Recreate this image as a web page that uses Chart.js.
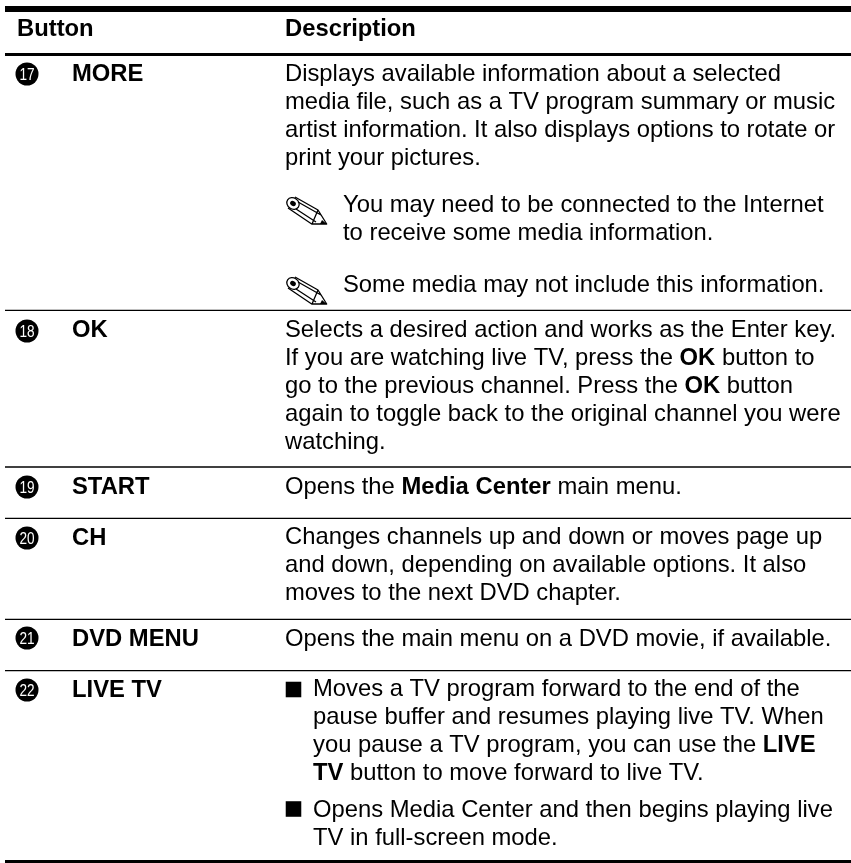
<!DOCTYPE html>
<html><head><meta charset="utf-8">
<style>html,body{margin:0;padding:0;background:#fff}#wrap{position:absolute;left:0;top:0;width:851px;height:863px}canvas{filter:blur(0.3px)}</style>
<script src="https://cdn.jsdelivr.net/npm/chart.js@4"></script>
</head><body><div id="wrap"><canvas id="c" width="851" height="863"></canvas></div>
<script>
const headers = ["Button", "Description"];
const buttonNumbers = ["17","18","19","20","21","22"];
const buttonNames = ["MORE","OK","START","CH","DVD MENU","LIVE TV"];
const moreLines = ["Displays available information about a selected","media file, such as a TV program summary or music","artist information. It also displays options to rotate or","print your pictures."];
const noteOneLines = ["You may need to be connected to the Internet","to receive some media information."];
const noteTwoLines = ["Some media may not include this information."];
const okLines = ["Selects a desired action and works as the Enter key.","If you are watching live TV, press the **OK** button to","go to the previous channel. Press the **OK** button","again to toggle back to the original channel you were","watching."];
const startLines = ["Opens the **Media Center** main menu."];
const chLines = ["Changes channels up and down or moves page up","and down, depending on available options. It also","moves to the next DVD chapter."];
const dvdLines = ["Opens the main menu on a DVD movie, if available."];
const liveOneLines = ["Moves a TV program forward to the end of the","pause buffer and resumes playing live TV. When","you pause a TV program, you can use the **LIVE","**TV** button to move forward to live TV."];
const liveTwoLines = ["Opens Media Center and then begins playing live","TV in full-screen mode."];

// layout (page pixels; the hidden linear scales map them 1:1)
const L = {left:5,right:851,col1:72,col2:285,noteX:343,bulletTextX:313,circleX:27,lh:28,size:23.8};
const thick=[{y:9,w:6},{y:54.5,w:3},{y:861.5,w:3}], thin=[310.3,467,518.3,619.3,670.7];
const circleY=[74,331,487,538,638,690], nameBase=[81,337,493.5,544.5,645.5,697];
const blocks=[
 {lines:moreLines,x:L.col2,y:81},{lines:noteOneLines,x:L.noteX,y:212},{lines:noteTwoLines,x:L.noteX,y:292},
 {lines:okLines,x:L.col2,y:336.5},{lines:startLines,x:L.col2,y:493.5},{lines:chLines,x:L.col2,y:544},
 {lines:dvdLines,x:L.col2,y:645.5},{lines:liveOneLines,x:L.bulletTextX,y:696},{lines:liveTwoLines,x:L.bulletTextX,y:816.5}];
const bullets=[{x:293.5,y:689.5},{x:293.5,y:809}], pencils=[{x:285,y:195},{x:285,y:275}];

const ruleSet=(y,w)=>({type:'line',data:[{x:L.left,y},{x:L.right,y}],borderColor:'#000',borderWidth:w,pointRadius:0,fill:false});
const datasets=[
 ...thick.map(r=>ruleSet(r.y,r.w)),
 ...thin.map(y=>ruleSet(y,1.3)),
 {type:'scatter',data:circleY.map(y=>({x:L.circleX,y})),pointStyle:'circle',pointRadius:11.5,backgroundColor:'#000',borderWidth:0},
 {type:'scatter',data:bullets,pointStyle:'rect',pointRadius:11,backgroundColor:'#000',borderWidth:0}
];
const fam='"Liberation Sans",Arial,sans-serif';
function run(ctx,text,x,y){
  text.split('**').forEach((seg,i)=>{
    ctx.font=(i%2?'bold ':'')+L.size+'px '+fam;
    ctx.fillText(seg,x,y); x+=ctx.measureText(seg).width;
  });
}
function pencil(ctx,x,y){
  ctx.save();ctx.translate(x,y);ctx.strokeStyle='#000';ctx.lineWidth=1.3;ctx.fillStyle='#000';ctx.lineJoin='round';
  ctx.beginPath();
  ctx.moveTo(10,2);ctx.lineTo(33,15);ctx.lineTo(41.7,29);ctx.lineTo(26.7,29);ctx.lineTo(3,13);
  ctx.moveTo(13,7);ctx.lineTo(36,20);ctx.moveTo(11,14);ctx.lineTo(31,27);
  ctx.moveTo(33,15);ctx.lineTo(27,29);
  ctx.stroke();
  ctx.beginPath();ctx.ellipse(8,8.5,6.5,5.5,0.6,0,Math.PI*2);ctx.stroke();
  ctx.beginPath();ctx.ellipse(8,8.5,3,2.4,0.6,0,Math.PI*2);ctx.fill();
  ctx.beginPath();ctx.moveTo(37,25);ctx.lineTo(41.7,29);ctx.lineTo(35,29);ctx.closePath();ctx.fill();
  ctx.restore();
}
const tablePlugin={id:'tableText',afterDatasetsDraw(chart){
  const {ctx,scales:{x:sx,y:sy}}=chart;
  ctx.save();ctx.fillStyle='#000';ctx.textAlign='left';ctx.textBaseline='alphabetic';
  ctx.font='bold '+L.size+'px '+fam;
  ctx.fillText(headers[0],sx.getPixelForValue(17),sy.getPixelForValue(35.5));
  ctx.fillText(headers[1],sx.getPixelForValue(L.col2),sy.getPixelForValue(35.5));
  buttonNames.forEach((n,i)=>{ctx.font='bold '+L.size+'px '+fam;ctx.fillText(n,sx.getPixelForValue(L.col1),sy.getPixelForValue(nameBase[i]));});
  blocks.forEach(b=>b.lines.forEach((t,i)=>run(ctx,t,sx.getPixelForValue(b.x),sy.getPixelForValue(b.y+i*L.lh))));
  ctx.fillStyle='#fff';ctx.textAlign='center';ctx.font='17px '+fam;
  buttonNumbers.forEach((n,i)=>{
    const px=sx.getPixelForValue(L.circleX),py=sy.getPixelForValue(circleY[i]+6);
    ctx.save();ctx.translate(px,py);ctx.scale(0.8,1);ctx.fillText(n,0,0);ctx.restore();
  });
  ctx.fillStyle='#000';
  pencils.forEach(p=>pencil(ctx,sx.getPixelForValue(p.x),sy.getPixelForValue(p.y)));
  ctx.restore();
}};
new Chart(document.getElementById('c'),{
  type:'scatter',
  data:{datasets},
  options:{responsive:false,animation:false,events:[],layout:{padding:0,autoPadding:false},
    plugins:{legend:{display:false},tooltip:{enabled:false},title:{display:false}},
    scales:{x:{type:'linear',display:false,min:0,max:851},y:{type:'linear',display:false,min:0,max:863,reverse:true}}},
  plugins:[tablePlugin]
});
</script></body></html>
